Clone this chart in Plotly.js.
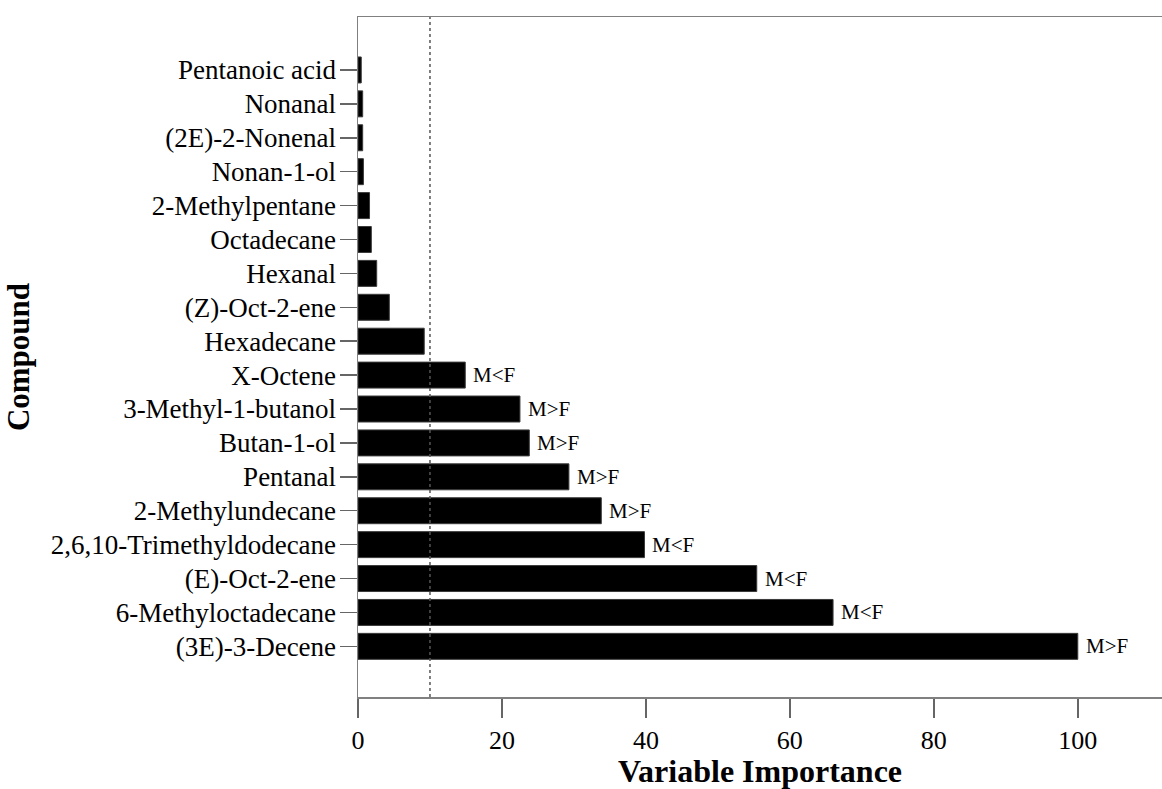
<!DOCTYPE html>
<html>
<head>
<meta charset="utf-8">
<script src="https://cdn.plot.ly/plotly-3.0.1.min.js"></script>
<style>
  html, body { margin: 0; padding: 0; background: #fff; }
  #chart { width: 1162px; height: 789px; }
</style>
</head>
<body>
<div id="chart"></div>
<script>
// Compounds ordered from the bottom bar upwards
const compounds = [
  "(3E)-3-Decene",
  "6-Methyloctadecane",
  "(E)-Oct-2-ene",
  "2,6,10-Trimethyldodecane",
  "2-Methylundecane",
  "Pentanal",
  "Butan-1-ol",
  "3-Methyl-1-butanol",
  "X-Octene",
  "Hexadecane",
  "(Z)-Oct-2-ene",
  "Hexanal",
  "Octadecane",
  "2-Methylpentane",
  "Nonan-1-ol",
  "(2E)-2-Nonenal",
  "Nonanal",
  "Pentanoic acid"
];

// Normalised variable importance (%)
const importance = [
  100, 66.0, 55.4, 39.8, 33.8, 29.3, 23.8, 22.5, 14.9,
  9.2, 4.35, 2.6, 1.85, 1.6, 0.75, 0.65, 0.65, 0.45
];

// Direction of the male/female difference for the important compounds
const direction = [
  "M>F", "M<F", "M<F", "M<F", "M>F", "M>F", "M>F", "M>F", "M<F",
  "", "", "", "", "", "", "", "", ""
];

// Importance cut-off
const cutoff = 10;

const xTicks = [0, 20, 40, 60, 80, 100];

const serif = "'Liberation Serif', 'Times New Roman', serif";

const bars = {
  type: "bar",
  orientation: "h",
  x: importance,
  y: compounds,
  width: 0.766,
  marker: { color: "#000000", line: { color: "#3a3a3a", width: 1 } },
  hoverinfo: "x+y"
};

const labelNotes = compounds
  .map((c, i) => ({ c, i }))
  .filter(d => direction[d.i] !== "")
  .map(d => ({
    x: importance[d.i],
    y: d.c,
    xref: "x",
    yref: "y",
    text: direction[d.i],
    showarrow: false,
    xanchor: "left",
    yanchor: "middle",
    xshift: 6,
    font: { family: serif, size: 21, color: "#000" }
  }));

const layout = {
  width: 1162,
  height: 789,
  margin: { l: 358, r: 0, t: 17, b: 92, pad: 0 },
  paper_bgcolor: "#ffffff",
  plot_bgcolor: "#ffffff",
  showlegend: false,
  bargap: 0,
  xaxis: {
    range: [0, 111.7],
    tickvals: xTicks,
    ticktext: xTicks.map(String),
    ticks: "outside",
    ticklen: 19,
    tickwidth: 1.5,
    tickcolor: "#666666",
    showline: true,
    linecolor: "#808080",
    linewidth: 1.5,
    mirror: true,
    showgrid: false,
    zeroline: false,
    tickfont: { family: serif, size: 26, color: "#000" },
    title: {
      text: "<b>Variable Importance</b>",
      font: { family: serif, size: 32, color: "#000" },
      standoff: 12
    }
  },
  yaxis: {
    type: "category",
    range: [-1.494, 18.562],
    ticks: "outside",
    ticklen: 17,
    tickwidth: 1.5,
    tickcolor: "#666666",
    ticklabelstandoff: -2,
    showline: true,
    linecolor: "#808080",
    linewidth: 1.5,
    showgrid: false,
    zeroline: false,
    tickfont: { family: serif, size: 27, color: "#000" },
    title: {
      text: "<b>Compound</b>",
      font: { family: serif, size: 31, color: "#000" },
      standoff: 12
    }
  },
  shapes: [{
    type: "line",
    xref: "x",
    yref: "paper",
    x0: cutoff, x1: cutoff,
    y0: 0, y1: 1,
    line: { color: "#555555", width: 1.5, dash: "dot" }
  }],
  annotations: labelNotes
};

Plotly.newPlot("chart", [bars], layout, { displayModeBar: false, staticPlot: true });
</script>
</body>
</html>
